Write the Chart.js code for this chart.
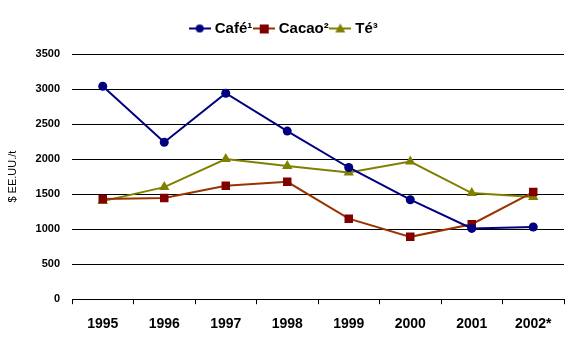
<!DOCTYPE html>
<html>
<head>
<meta charset="utf-8">
<script src="https://cdn.jsdelivr.net/npm/chart.js@4.4.0/dist/chart.umd.min.js"></script>
<style>
  html, body { margin: 0; padding: 0; background: #fff; }
  #wrap { width: 584px; height: 363px; }
</style>
</head>
<body>
<div id="wrap"><canvas id="chart" width="584" height="363"></canvas></div>
<script>
const years = ['1995', '1996', '1997', '1998', '1999', '2000', '2001', '2002*'];
const cafe = [3040, 2240, 2940, 2400, 1880, 1420, 1010, 1030];
const cacao = [1430, 1445, 1620, 1675, 1150, 890, 1070, 1530];
const te = [1400, 1600, 2000, 1900, 1810, 1965, 1515, 1460];
const yTicks = [0, 500, 1000, 1500, 2000, 2500, 3000, 3500];

// legend symbol: short line with marker in the middle
function legendIcon(lineColor, markColor, shape) {
    const c = document.createElement('canvas');
    c.width = 22; c.height = 12;
    const g = c.getContext('2d');
    g.strokeStyle = lineColor;
    g.lineWidth = 2;
    g.beginPath(); g.moveTo(0, 6); g.lineTo(22, 6); g.stroke();
    g.fillStyle = markColor;
    if (shape === 'circle') {
        g.beginPath(); g.arc(11, 6, 4, 0, Math.PI * 2); g.fill();
    } else if (shape === 'rect') {
        g.fillRect(7, 2, 9, 9);
    } else {
        g.beginPath(); g.moveTo(11, 1); g.lineTo(16, 10); g.lineTo(6, 10); g.closePath(); g.fill();
    }
    return c;
}

const icons = [
    legendIcon('#000080', '#000080', 'circle'),
    legendIcon('#993300', '#800000', 'rect'),
    legendIcon('#808000', '#808000', 'triangle')
];

// extra room under the legend
const legendGap = {
    id: 'legendGap',
    beforeInit(chart) {
        const fit = chart.legend.fit;
        chart.legend.fit = function() {
            fit.bind(chart.legend)();
            this.height += 8;
        };
    }
};

const ctx = document.getElementById('chart').getContext('2d');
new Chart(ctx, {
    type: 'line',
    data: {
        labels: years,
        datasets: [{
            label: 'Café¹',
            data: cafe,
            borderColor: '#000080',
            backgroundColor: '#000080',
            borderWidth: 2,
            pointStyle: 'circle',
            pointRadius: 4.5,
            pointBorderWidth: 0,
            tension: 0
        }, {
            label: 'Cacao²',
            data: cacao,
            borderColor: '#993300',
            backgroundColor: '#800000',
            pointBackgroundColor: '#800000',
            borderWidth: 2,
            pointStyle: 'rect',
            pointRadius: 6,
            pointBorderWidth: 0,
            tension: 0
        }, {
            label: 'Té³',
            data: te,
            borderColor: '#808000',
            backgroundColor: '#808000',
            borderWidth: 2,
            pointStyle: 'triangle',
            pointRadius: 6,
            pointBorderWidth: 0,
            tension: 0
        }]
    },
    plugins: [legendGap],
    options: {
        responsive: false,
        animation: false,
        layout: { padding: { left: 6, right: 20, top: 17, bottom: 18 } },
        plugins: {
            tooltip: { enabled: false },
            legend: {
                position: 'top',
                labels: {
                    usePointStyle: true,
                    boxWidth: 22,
                    boxHeight: 12,
                    padding: 4,
                    color: '#000',
                    font: { family: 'Liberation Sans', size: 15, weight: 'bold' },
                    generateLabels: function(chart) {
                        return chart.data.datasets.map((ds, i) => ({
                            text: ds.label,
                            pointStyle: icons[i],
                            fillStyle: ds.borderColor,
                            strokeStyle: ds.borderColor,
                            lineWidth: 0,
                            fontColor: '#000',
                            datasetIndex: i
                        }));
                    }
                }
            }
        },
        scales: {
            x: {
                offset: true,
                grid: {
                    offset: true,
                    drawOnChartArea: false,
                    drawTicks: true,
                    tickLength: 5,
                    color: '#000'
                },
                border: { display: true, color: '#000', width: 1 },
                ticks: {
                    color: '#000',
                    padding: 12,
                    maxRotation: 0,
                    font: { family: 'Liberation Sans', size: 14, weight: 'bold' }
                }
            },
            y: {
                min: 0,
                max: 3500,
                afterBuildTicks: function(axis) {
                    axis.ticks = yTicks.map(v => ({ value: v }));
                },
                afterFit: function(axis) { axis.width = 66; },
                grid: {
                    color: '#000',
                    lineWidth: 1,
                    drawTicks: false
                },
                border: { display: false },
                ticks: {
                    color: '#000',
                    padding: 12,
                    callback: v => String(v),
                    font: { family: 'Liberation Sans', size: 11, weight: 'bold' }
                },
                title: {
                    display: true,
                    text: '$ EE.UU./t',
                    color: '#000',
                    padding: 0,
                    font: { family: 'Liberation Sans', size: 11 }
                }
            }
        }
    }
});
</script>
</body>
</html>
